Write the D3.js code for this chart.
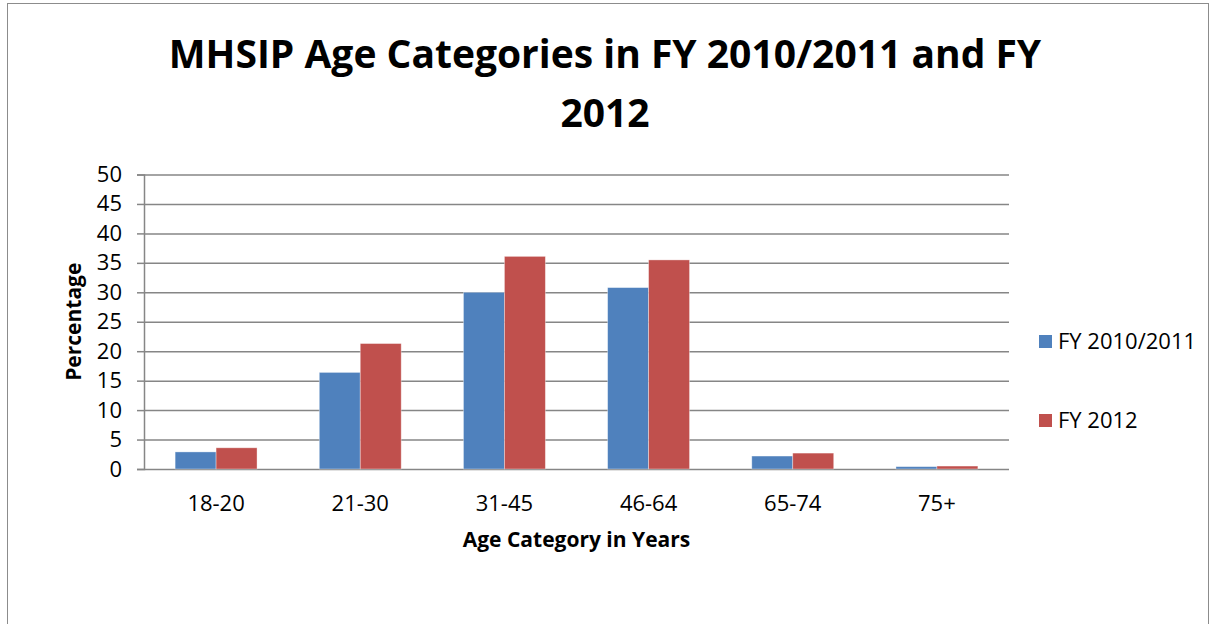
<!DOCTYPE html>
<html>
<head>
<meta charset="utf-8">
<script src="https://cdn.jsdelivr.net/npm/d3@7"></script>
<style>
    body { margin: 0; background: #fff; }
    svg text { font-family: "Open Sans", "Noto Sans", sans-serif; fill: #000; }
    .text_tick { font-size: 22px; }
    .text_axis_title { font-size: 21px; font-weight: bold; }
    .text_title { font-size: 39px; font-weight: bold; }
</style>
</head>
<body>
<svg id="age_chart" width="1210" height="624"></svg>
<script>
var categories = ["18-20", "21-30", "31-45", "46-64", "65-74", "75+"];
var seriesNames = ["FY 2010/2011", "FY 2012"];
var seriesColors = ["#4F81BD", "#C0504D"];
var values2010 = [2.9, 16.4, 30.0, 30.8, 2.2, 0.4];
var values2012 = [3.6, 21.3, 36.1, 35.5, 2.7, 0.5];
var yTicks = [0, 5, 10, 15, 20, 25, 30, 35, 40, 45, 50];
var titleLines = ["MHSIP Age Categories in FY 2010/2011 and FY", "2012"];

function build_age_chart() {
    var svg = d3.select("#age_chart");
    const margins = {top: 174.5, right: 201, bottom: 155, left: 144};
    const svg_width = 1210, svg_height = 624;
    const plotBottom = svg_height - margins.bottom;   // 469
    const plotRight = svg_width - margins.right;      // 1009

    // outer chart frame (bottom edge runs off the page)
    svg.append("rect")
        .attr("x", 7.5).attr("y", 3.5)
        .attr("width", 1201).attr("height", 700)
        .attr("fill", "white")
        .attr("stroke", "#8c8c8c")
        .attr("stroke-width", 1);

    // title, squeezed horizontally to match the narrow original face
    var title = svg.append("g").attr("class", "title");
    var titleTexts = title.selectAll("text")
        .data(titleLines).enter()
        .append("text")
        .attr("class", "text_title")
        .attr("text-anchor", "middle")
        .attr("x", 0)
        .attr("y", (d, i) => 68 + i * 59)
        .text(d => d);
    var w = titleTexts.node().getComputedTextLength();
    var sx = Math.min(1, 903 / w);
    title.attr("transform", "translate(605,0) scale(" + sx + ",1)");

    var dataset = categories.map((c, i) => ({cat: c, values: [values2010[i], values2012[i]]}));

    var x0 = d3.scaleBand()
        .domain(categories)
        .range([margins.left, plotRight])
        .padding(0);
    var x1 = d3.scaleBand()
        .domain(seriesNames)
        .range([0, x0.bandwidth()])
        .paddingInner(0)
        .paddingOuter(0.76);
    var y = d3.scaleLinear()
        .domain([0, 50])
        .range([plotBottom, margins.top]);

    // gridlines + y axis
    var yAxis = d3.axisLeft(y).tickValues(yTicks).tickSize(7).tickPadding(15);
    var gy = svg.append("g")
        .attr("transform", "translate(" + margins.left + ",0)")
        .call(yAxis);
    gy.select(".domain").attr("stroke", "#868686").attr("stroke-width", 1.5);
    gy.selectAll(".tick line").attr("stroke", "#868686").attr("stroke-width", 1.5);
    gy.selectAll(".tick text").attr("class", "text_tick").attr("font-size", null).attr("font-family", null);
    gy.selectAll(".tick").append("line")
        .attr("x1", 0).attr("x2", plotRight - margins.left)
        .attr("stroke", "#868686").attr("stroke-width", 1.5);

    // bars
    var groups = svg.append("g").selectAll("g.bar_group")
        .data(dataset).enter()
        .append("g").classed("bar_group", true)
        .attr("transform", d => "translate(" + x0(d.cat) + ",0)");
    groups.selectAll("rect")
        .data(d => d.values.map((v, i) => ({series: seriesNames[i], value: v, color: seriesColors[i]})))
        .enter().append("rect")
        .attr("x", d => x1(d.series))
        .attr("y", d => y(d.value))
        .attr("width", x1.bandwidth())
        .attr("height", d => plotBottom - y(d.value))
        .attr("fill", d => d.color)
        .attr("stroke", "rgba(255,255,255,0.45)")
        .attr("stroke-width", 0.8);

    // x tick labels
    svg.append("g").selectAll("text")
        .data(categories).enter()
        .append("text")
        .attr("class", "text_tick")
        .attr("text-anchor", "middle")
        .attr("x", d => x0(d) + x0.bandwidth() / 2)
        .attr("y", 511)
        .text(d => d);

    // axis titles
    svg.append("text")
        .attr("class", "text_axis_title")
        .attr("text-anchor", "middle")
        .attr("x", (margins.left + plotRight) / 2)
        .attr("y", 547)
        .text("Age Category in Years");
    svg.append("text")
        .attr("class", "text_axis_title")
        .attr("text-anchor", "middle")
        .attr("transform", "translate(81," + ((margins.top + plotBottom) / 2) + ") rotate(-90)")
        .text("Percentage");

    // legend
    var legend = svg.append("g").selectAll("g.legend_item")
        .data(seriesNames).enter()
        .append("g").classed("legend_item", true)
        .attr("transform", (d, i) => "translate(1039," + (335 + i * 79) + ")");
    legend.append("rect")
        .attr("width", 13).attr("height", 13)
        .attr("fill", (d, i) => seriesColors[i]);
    legend.append("text")
        .attr("class", "text_tick")
        .attr("x", 19)
        .attr("y", 14)
        .text(d => d);
}

build_age_chart();
</script>
</body>
</html>
